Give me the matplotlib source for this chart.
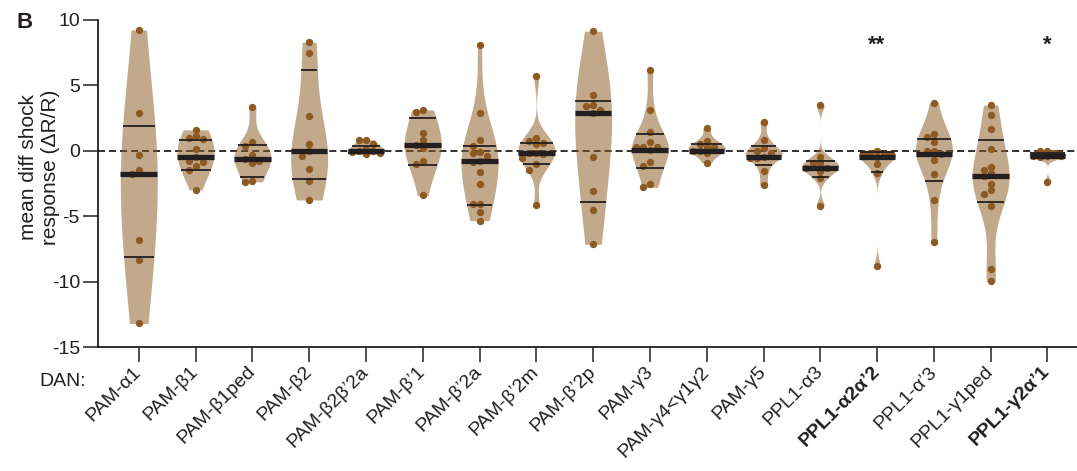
import numpy as np
import matplotlib.pyplot as plt

plt.rcParams['font.family'] = ['Liberation Sans', 'DejaVu Sans']
plt.rcParams['axes.unicode_minus'] = False

# --- data ---
dans = ['PAM-α1', 'PAM-β1', 'PAM-β1ped', 'PAM-β2', 'PAM-β2β’2a', 'PAM-β’1',
        'PAM-β’2a', 'PAM-β’2m', 'PAM-β’2p', 'PAM-γ3', 'PAM-γ4<γ1γ2', 'PAM-γ5',
        'PPL1-α3', 'PPL1-α2α’2', 'PPL1-α’3', 'PPL1-γ1ped', 'PPL1-γ2α’1']
bold_dans = ['PPL1-α2α’2', 'PPL1-γ2α’1']

responses = [
    [9.24, 2.88, -0.33, -1.5, -1.76, -6.85, -8.35, -13.2],
    [1.6, 0.92, 1.0, 1.12, 0.13, -0.45, -0.8, -0.85, -1.2, -1.5, -2.98],
    [3.38, 0.4, 0.64, -0.33, -0.6, -0.76, -0.94, -2.37, -2.29],
    [8.3, 7.46, 2.67, 0.53, -0.05, -0.43, -1.4, -2.29, -3.76],
    [0.84, 0.84, 0.53, 0.1, 0.0, -0.05, -0.1, -0.18, -0.25, -0.18],
    [3.13, 3.0, 1.35, 0.82, 0.46, 0.2, -0.79, -1.02, -3.41],
    [8.09, 2.88, 0.82, 0.4, -0.1, -0.2, -0.43, -0.79, -0.86, -1.6, -2.54,
     -4.05, -4.05, -4.71, -5.34],
    [5.75, 0.99, 0.74, 0.59, 0.51, -0.15, -0.18, -0.25, -0.56, -1.02, -1.43, -4.15],
    [9.14, 4.3, 3.49, 3.41, 3.13, 2.92, -0.48, -3.05, -4.5, -7.15],
    [6.18, 3.15, 1.45, 0.66, 0.31, 0.31, 0.31, 0.08, -0.82, -1.2, -2.54, -2.8],
    [1.73, 0.76, 0.51, 0.28, 0.28, 0.0, -0.05, -0.18, -0.9],
    [2.24, 0.84, 0.2, 0.02, -0.18, -0.46, -0.53, -0.53, -1.53, -2.62],
    [3.51, -0.46, -0.92, -0.97, -1.32, -1.32, -1.53, -2.08, -4.22],
    [-0.05, -0.15, -0.25, -0.25, -0.25, -0.48, -1.02, -1.66, -8.83],
    [3.69, 1.3, 1.02, 0.64, -0.05, -0.05, -0.25, -0.74, -1.76, -3.74, -6.97],
    [3.49, 2.7, 1.68, 0.15, -1.25, -1.45, -1.73, -1.91, -2.5, -2.98, -3.31,
     -4.25, -9.06, -9.98],
    [0.02, 0.02, -0.13, -0.38, -0.4, -0.43, -0.45, -2.37],
]
medians = [-1.78, -0.46, -0.61, -0.05, -0.05, 0.46, -0.79, -0.15, 2.92, 0.08,
           0.02, -0.46, -1.32, -0.48, -0.25, -1.91, -0.4]
upper_q = [1.93, 0.86, 0.43, 6.16, 0.4, 2.47, 0.38, 0.56, 3.79, 1.27,
           0.51, 0.38, -0.76, -0.08, 0.94, 0.79, -0.2]
lower_q = [-8.09, -1.43, -2.04, -2.16, -0.15, -1.07, -4.17, -0.99, -3.89, -1.32,
           -0.2, -1.12, -2.04, -1.6, -2.34, -3.92, -0.5]
star_idx = [13, 16]
star_text = ['**', '*']
star_y = 8.1

brown = '#8c5a22'
ink = '#231f20'

fig = plt.figure(figsize=(10.77, 4.71), dpi=100)
ax = fig.add_axes([98 / 1077, 124 / 471, 979 / 1077, 327 / 471])
ax.set_xlim(-0.718, 16.52)
ax.set_ylim(-15, 10)

# pixel scales, for the swarm layout
bb = ax.get_window_extent()
px_x = bb.width / (16.52 + 0.718)
px_y = bb.height / 25.0


def kde_violin(x, vals, half=0.325, smooth=1.7):
    vals = np.asarray(vals, float)
    n = len(vals)
    iqr = np.subtract(*np.percentile(vals, [75, 25]))
    h = smooth * 0.9 * min(vals.std(ddof=1), iqr / 1.34) * n ** -0.2
    ys = np.linspace(vals.min(), vals.max(), 400)
    dens = np.exp(-0.5 * ((ys[:, None] - vals[None, :]) / h) ** 2).sum(1)
    w = half * dens / dens.max()
    ax.fill_betweenx(ys, x - w, x + w, color=brown, alpha=0.52, lw=0, zorder=3)
    return ys, w


def swarm(vals, d=5.8, step=7.0, lim=16.0):
    vals = np.asarray(vals, float)
    offs = np.zeros(len(vals))
    placed = []
    for i in np.argsort(-vals):
        y = vals[i] * px_y
        xo = 0.0
        for k in range(40):
            xo = ((k + 1) // 2) * (1 if k % 2 == 0 else -1) * step
            if abs(xo) > lim:
                xo = 0.0
                break
            if all((xo - px) ** 2 + (y - py) ** 2 >= d * d for px, py in placed):
                break
        placed.append((xo, y))
        offs[i] = xo
    return offs / px_x


ax.axhline(0, color=ink, lw=1.3, ls=(0, (3.9, 2.2)), zorder=2)

for i, vals in enumerate(responses):
    ys, w = kde_violin(i, vals)
    ax.scatter(i + swarm(vals), vals, s=28, color=brown, lw=0, zorder=4)
    for yv, lw in [(medians[i], 3.8), (upper_q[i], 1.3), (lower_q[i], 1.3)]:
        hw = np.interp(yv, ys, w)
        ax.plot([i - hw, i + hw], [yv, yv], color=ink, lw=lw,
                solid_capstyle='butt', zorder=5)

for k, t in zip(star_idx, star_text):
    ax.text(k, star_y, t, ha='center', va='center', fontsize=16,
            fontweight='bold', color=ink)

for s in ['top', 'right']:
    ax.spines[s].set_visible(False)
for s in ['left', 'bottom']:
    ax.spines[s].set_linewidth(1.3)
    ax.spines[s].set_color(ink)

ax.set_yticks([-15, -10, -5, 0, 5, 10])
ax.set_xticks(range(len(dans)))
ax.set_xticklabels(dans, rotation=45, ha='right', va='center',
                   rotation_mode='anchor')
for lab in ax.get_xticklabels():
    if lab.get_text() in bold_dans:
        lab.set_fontweight('bold')
ax.tick_params(length=11, width=1.1, color=ink, labelsize=14, labelcolor=ink)
ax.tick_params(axis='x', pad=5)
ax.tick_params(axis='y', pad=2)

fig.text(40 / 1077, 1 - 167 / 471, 'mean diff shock\nresponse (ΔR/R)',
         rotation=90, ha='center', va='center', fontsize=15, color=ink,
         linespacing=1.2)
fig.text(86 / 1077, 1 - 381 / 471, 'DAN:', ha='right', va='center',
         fontsize=14, color=ink)
fig.text(16 / 1077, 1 - 28 / 471, 'B', ha='left', va='baseline', fontsize=16,
         fontweight='bold', color=ink)

fig.savefig('out.png', dpi=100)
